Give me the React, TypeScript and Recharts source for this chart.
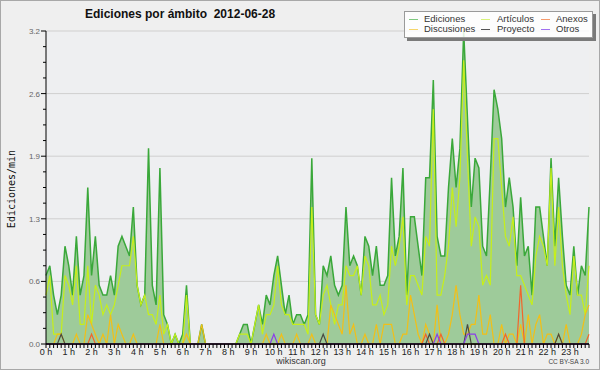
import { ComposedChart, Area, Line, XAxis, YAxis, CartesianGrid } from 'recharts'

// edits per minute, one value every 10 minutes (144 slots)
const ediciones = [
  0.7, 0.8, 0.5, 0.3, 0.5, 1.0, 0.8, 0.5, 1.1, 0.5,
  0.7, 1.6, 0.7, 1.1, 0.6, 0.5, 0.5, 0.7, 0.5, 1.0,
  1.1, 1.0, 0.9, 1.4, 0.6, 0.4, 0.5, 2.0, 0.6, 0.4,
  1.8, 0.3, 0.2, 0, 0.1, 0, 0.1, 0.6, 0, 0,
  0, 0.2, 0, 0, 0, 0, 0, 0, 0, 0,
  0, 0.1, 0.2, 0.2, 0, 0.2, 0.4, 0.2, 0.5, 0.4,
  0.7, 0.9, 0.6, 0.3, 0.5, 0.2, 0.3, 0.3, 0.2, 0.3,
  1.9, 0.3, 0.2, 0.8, 0.7, 0.9, 0.6, 0.5, 0.6, 1.4,
  0.8, 0.9, 0.8, 0.5, 1.1, 1.0, 0.7, 1.0, 0.6, 0.6,
  0.7, 1.7, 0.9, 1.1, 1.8, 0.5, 1.3, 1.3, 1.0, 0.7,
  1.7, 1.7, 2.7, 1.1, 0.9, 0.9, 1.6, 2.1, 1.6, 2.0,
  3.2, 2.3, 1.4, 1.9, 1.8, 1.0, 0.9, 1.7, 2.6, 2.4,
  2.1, 1.4, 1.7, 1.4, 0.8, 1.5, 0.9, 1.0, 0.5, 1.4,
  1.4, 1.1, 0.8, 1.9, 1.0, 1.7, 1.1, 0.6, 0.5, 1.0,
  0.5, 0.8, 0.7, 1.4,
]

const articulos = [
  0.5, 0.7, 0.1, 0.1, 0.1, 0.7, 0.6, 0.4, 0.8, 0.2,
  0.2, 0.8, 0.2, 0.6, 0.5, 0.3, 0.4, 0.3, 0.4, 0.6,
  0.8, 0.8, 0.8, 1.1, 0.6, 0.4, 0.5, 0.3, 0.3, 0.2,
  0.5, 0.1, 0.2, 0, 0.1, 0, 0, 0.5, 0, 0,
  0, 0, 0, 0, 0, 0, 0, 0, 0, 0,
  0, 0.1, 0.1, 0.1, 0, 0.2, 0.4, 0.1, 0.3, 0.3,
  0.4, 0.8, 0.4, 0.3, 0.3, 0.2, 0.2, 0.2, 0.2, 0.1,
  1.4, 0.3, 0.2, 0.5, 0.6, 0.4, 0.2, 0.4, 0.4, 0.8,
  0.7, 0.7, 0.8, 0.5, 0.9, 0.8, 0.4, 0.4, 0.5, 0.3,
  0.4, 1.0, 0.8, 1.0, 1.3, 0.4, 0.7, 0.7, 0.6, 0.5,
  1.1, 1.0, 2.4, 0.5, 0.5, 0.7, 1.0, 1.6, 1.2, 1.7,
  2.9, 1.9, 1.0, 1.3, 1.2, 0.6, 0.7, 0.6, 2.1, 2.1,
  1.6, 1.1, 1.0, 1.3, 0.7, 0.7, 0.6, 0.5, 0.4, 0.9,
  1.1, 1.0, 0.8, 1.8, 0.8, 1.4, 0.8, 0.5, 0.3, 0.9,
  0.5, 0.5, 0.3, 0.8,
]

const discusiones = [
  0, 0, 0, 0.1, 0.1, 0, 0, 0, 0.1, 0,
  0, 0.3, 0.2, 0.1, 0, 0.1, 0, 0.3, 0, 0.2,
  0.1, 0, 0, 0.1, 0, 0, 0, 0, 0, 0,
  0.2, 0, 0, 0, 0, 0, 0, 0.1, 0, 0,
  0, 0.2, 0, 0, 0, 0, 0, 0, 0, 0,
  0, 0, 0, 0, 0, 0, 0, 0, 0.1, 0,
  0, 0, 0.1, 0, 0, 0, 0.1, 0, 0, 0,
  0.1, 0, 0, 0, 0, 0.4, 0.3, 0.2, 0.1, 0.6,
  0.1, 0.2, 0, 0, 0.1, 0, 0, 0.2, 0, 0.2,
  0.2, 0.2, 0, 0, 0.1, 0.1, 0.5, 0.3, 0.1, 0,
  0.2, 0.1, 0, 0.4, 0, 0, 0.1, 0.3, 0.6, 0.3,
  0.1, 0.1, 0.2, 0.2, 0.5, 0.1, 0.1, 0.3, 0, 0,
  0.2, 0, 0.1, 0.1, 0, 0.2, 0, 0.3, 0, 0.2,
  0.3, 0, 0.1, 0.1, 0, 0.1, 0, 0.2, 0, 0,
  0, 0.1, 0.3, 0.4,
]

const anexos = [
  0, 0, 0, 0, 0, 0, 0, 0, 0, 0,
  0, 0, 0.1, 0, 0, 0, 0, 0, 0, 0,
  0, 0, 0, 0, 0, 0, 0, 0, 0, 0,
  0, 0, 0, 0, 0, 0, 0, 0, 0, 0,
  0, 0, 0, 0, 0, 0, 0, 0, 0, 0,
  0, 0, 0, 0, 0, 0, 0, 0, 0, 0,
  0, 0, 0, 0, 0, 0, 0, 0, 0, 0,
  0, 0, 0, 0, 0, 0, 0, 0, 0, 0,
  0, 0, 0, 0, 0, 0, 0, 0, 0, 0,
  0, 0, 0, 0, 0, 0, 0, 0, 0, 0,
  0.1, 0, 0, 0, 0.1, 0, 0, 0, 0, 0,
  0, 0, 0, 0, 0, 0, 0, 0, 0, 0,
  0, 0.1, 0, 0, 0, 0.6, 0, 0, 0, 0,
  0, 0, 0, 0, 0, 0, 0, 0, 0, 0,
  0, 0, 0, 0.1,
]

const proyecto = [
  0, 0, 0, 0, 0.1, 0, 0, 0, 0, 0,
  0, 0, 0, 0, 0, 0, 0, 0, 0, 0,
  0, 0, 0, 0, 0, 0, 0, 0, 0, 0,
  0, 0, 0, 0, 0, 0, 0, 0, 0, 0,
  0, 0, 0, 0, 0, 0, 0, 0, 0, 0,
  0, 0, 0, 0, 0, 0, 0, 0, 0, 0,
  0, 0, 0, 0, 0, 0, 0, 0, 0, 0,
  0, 0, 0, 0.1, 0, 0, 0, 0, 0, 0,
  0, 0, 0, 0, 0, 0, 0, 0, 0, 0,
  0, 0, 0, 0, 0, 0, 0, 0, 0, 0,
  0, 0.1, 0, 0, 0, 0, 0, 0, 0, 0,
  0, 0.2, 0, 0, 0, 0, 0, 0, 0, 0,
  0, 0, 0, 0, 0, 0, 0, 0, 0, 0,
  0, 0, 0, 0, 0, 0.1, 0, 0, 0, 0,
  0, 0, 0, 0,
]

const otros = [
  0, 0, 0, 0, 0, 0, 0, 0, 0, 0,
  0, 0, 0, 0, 0, 0, 0, 0, 0, 0,
  0, 0, 0, 0, 0, 0, 0, 0, 0, 0,
  0, 0, 0, 0, 0, 0, 0, 0, 0, 0,
  0, 0, 0, 0, 0, 0, 0, 0, 0, 0,
  0, 0, 0, 0, 0, 0, 0, 0, 0, 0,
  0.1, 0, 0, 0, 0, 0, 0, 0, 0, 0,
  0, 0, 0, 0, 0, 0, 0, 0, 0, 0,
  0, 0, 0, 0, 0, 0, 0, 0, 0, 0,
  0, 0, 0, 0, 0, 0, 0, 0, 0, 0,
  0, 0, 0, 0.1, 0, 0, 0, 0, 0, 0,
  0, 0.1, 0.1, 0.1, 0, 0, 0, 0, 0, 0,
  0, 0, 0, 0, 0, 0, 0, 0, 0, 0,
  0, 0, 0, 0, 0, 0, 0, 0, 0, 0,
  0, 0, 0, 0,
]

const hourLabels = [
  '0 h', '1 h', '2 h', '3 h', '4 h', '5 h', '6 h', '7 h', '8 h', '9 h', '10 h', '11 h',
  '12 h', '13 h', '14 h', '15 h', '16 h', '17 h', '18 h', '19 h', '20 h', '21 h', '22 h', '23 h',
]

const yMajor = [0, 0.64, 1.28, 1.92, 2.56, 3.2]
const yMajorLabels = ['0.0', '0.6', '1.3', '1.9', '2.6', '3.2']

const slotsPerHour = 6
const yMinorSteps = 4

const data = ediciones.map((v, i) => ({
  t: i,
  ed: v,
  ar: articulos[i],
  di: discusiones[i],
  an: anexos[i],
  pr: proyecto[i],
  ot: otros[i],
}))

const xTicks = data.map(d => d.t)
const yTicks: number[] = []
for (let k = 0; k < yMajor.length - 1; k++) {
  const step = (yMajor[k + 1] - yMajor[k]) / yMinorSteps
  for (let j = 0; j < yMinorSteps; j++) yTicks.push(yMajor[k] + step * j)
}
yTicks.push(yMajor[yMajor.length - 1])

const series = [
  { key: 'ar', name: 'Artículos', color: '#c6ef1a' },
  { key: 'di', name: 'Discusiones', color: '#f2bf17' },
  { key: 'an', name: 'Anexos', color: '#f2652a' },
  { key: 'pr', name: 'Proyecto', color: '#4a4a42' },
  { key: 'ot', name: 'Otros', color: '#8b3fe8' },
]

const legendItems = [
  { name: 'Ediciones', color: '#7fc97f' },
  { name: 'Artículos', color: '#d8f27a' },
  { name: 'Anexos', color: '#f59a6c' },
  { name: 'Discusiones', color: '#f5d56a' },
  { name: 'Proyecto', color: '#555555' },
  { name: 'Otros', color: '#a070f0' },
]

function XTick(props: any) {
  const { x, y, payload } = props
  const v = payload.value
  return (
    <g>
      <line x1={x} y1={y} x2={x} y2={y + 4} stroke="#000" strokeWidth={1} />
      {v % slotsPerHour === 0 && (
        <text x={x} y={y + 11} textAnchor="middle" fontSize={9} fill="#222"
          fontFamily="Liberation Sans, Arial, sans-serif">
          {hourLabels[v / slotsPerHour]}
        </text>
      )}
    </g>
  )
}

function YTick(props: any) {
  const { x, y, payload } = props
  const idx = yMajor.findIndex(m => Math.abs(m - payload.value) < 0.001)
  const major = idx >= 0
  return (
    <g>
      <line x1={x - (major ? 5 : 3)} y1={y} x2={x} y2={y} stroke="#000" strokeWidth={1} />
      {major && (
        <text x={x - 6} y={y + 3} textAnchor="end" fontSize={8} fill="#666"
          fontFamily="Liberation Sans, Arial, sans-serif">
          {yMajorLabels[idx]}
        </text>
      )}
    </g>
  )
}

const font = 'Liberation Sans, Arial, sans-serif'

export default function App() {
  return (
    <div style={{
      position: 'absolute', left: 0, top: 0, width: 600, height: 370,
      background: '#efefef', border: '1px solid #a8a8a8', boxSizing: 'border-box',
      fontFamily: font, overflow: 'hidden',
    }}>
      <div style={{ position: 'absolute', left: -1, top: -1 }}>
        <ComposedChart width={600} height={370} data={data}
          margin={{ top: 31, right: 11, left: 0, bottom: 0 }}>
          <CartesianGrid vertical={false} horizontalValues={yMajor} stroke="#cfcfcf" fill="#eeeff1" />
          <XAxis dataKey="t" type="number" domain={[0, 143]} ticks={xTicks} interval={0}
            height={26} tickSize={0} tickMargin={0} tickLine={false} tick={<XTick />}
            axisLine={{ stroke: '#000', strokeWidth: 1.5 }} allowDecimals={false} />
          <YAxis type="number" domain={[0, 3.2]} ticks={yTicks} interval={0} width={46}
            tickSize={0} tickMargin={0} tickLine={false} tick={<YTick />}
            axisLine={{ stroke: '#000', strokeWidth: 1 }} />
          <Area type="linear" dataKey="ed" stroke="#3aa83a" strokeWidth={1.5}
            fill="#9ecb9a" fillOpacity={1} dot={false} isAnimationActive={false} />
          {series.map(s => (
            <Line key={s.key} type="linear" dataKey={s.key} stroke={s.color}
              strokeWidth={1.2} dot={false} isAnimationActive={false} />
          ))}
        </ComposedChart>
      </div>

      <div style={{
        position: 'absolute', left: 84, top: 6, fontSize: 12, fontWeight: 'bold',
        color: '#111', whiteSpace: 'pre',
      }}>
        {'Ediciones por ámbito  2012-06-28'}
      </div>

      <div style={{
        position: 'absolute', left: 10, top: 188, transform: 'translate(-50%, -50%) rotate(-90deg)',
        fontFamily: 'DejaVu Sans Mono, monospace', fontSize: 10, color: '#111', whiteSpace: 'nowrap',
      }}>
        Ediciones/min
      </div>

      <div style={{
        position: 'absolute', left: 403, top: 10, width: 187, height: 25,
        background: 'rgba(255,255,255,0.85)', border: '1px solid #9a9a9a',
        boxShadow: '3px 3px 0 #7a7a7a',
      }}>
        {legendItems.map((it, k) => {
          const col = k % 3
          const row = Math.floor(k / 3)
          const lx = [4, 76, 136][col]
          const tx = [19, 92, 151][col]
          const cy = 7 + row * 10
          return (
            <div key={it.name}>
              <div style={{ position: 'absolute', left: lx, top: cy, width: 9, height: 1, background: it.color }} />
              <div style={{
                position: 'absolute', left: tx, top: cy - 6, fontSize: 9.5, lineHeight: '12px', color: '#333',
              }}>
                {it.name}
              </div>
            </div>
          )
        })}
      </div>

      <div style={{
        position: 'absolute', left: 0, width: 600, top: 355, textAlign: 'center',
        fontSize: 9, color: '#333',
      }}>
        wikiscan.org
      </div>
      <div style={{ position: 'absolute', right: 10, top: 357, fontSize: 6.5, color: '#444' }}>
        CC BY-SA 3.0
      </div>
    </div>
  )
}
